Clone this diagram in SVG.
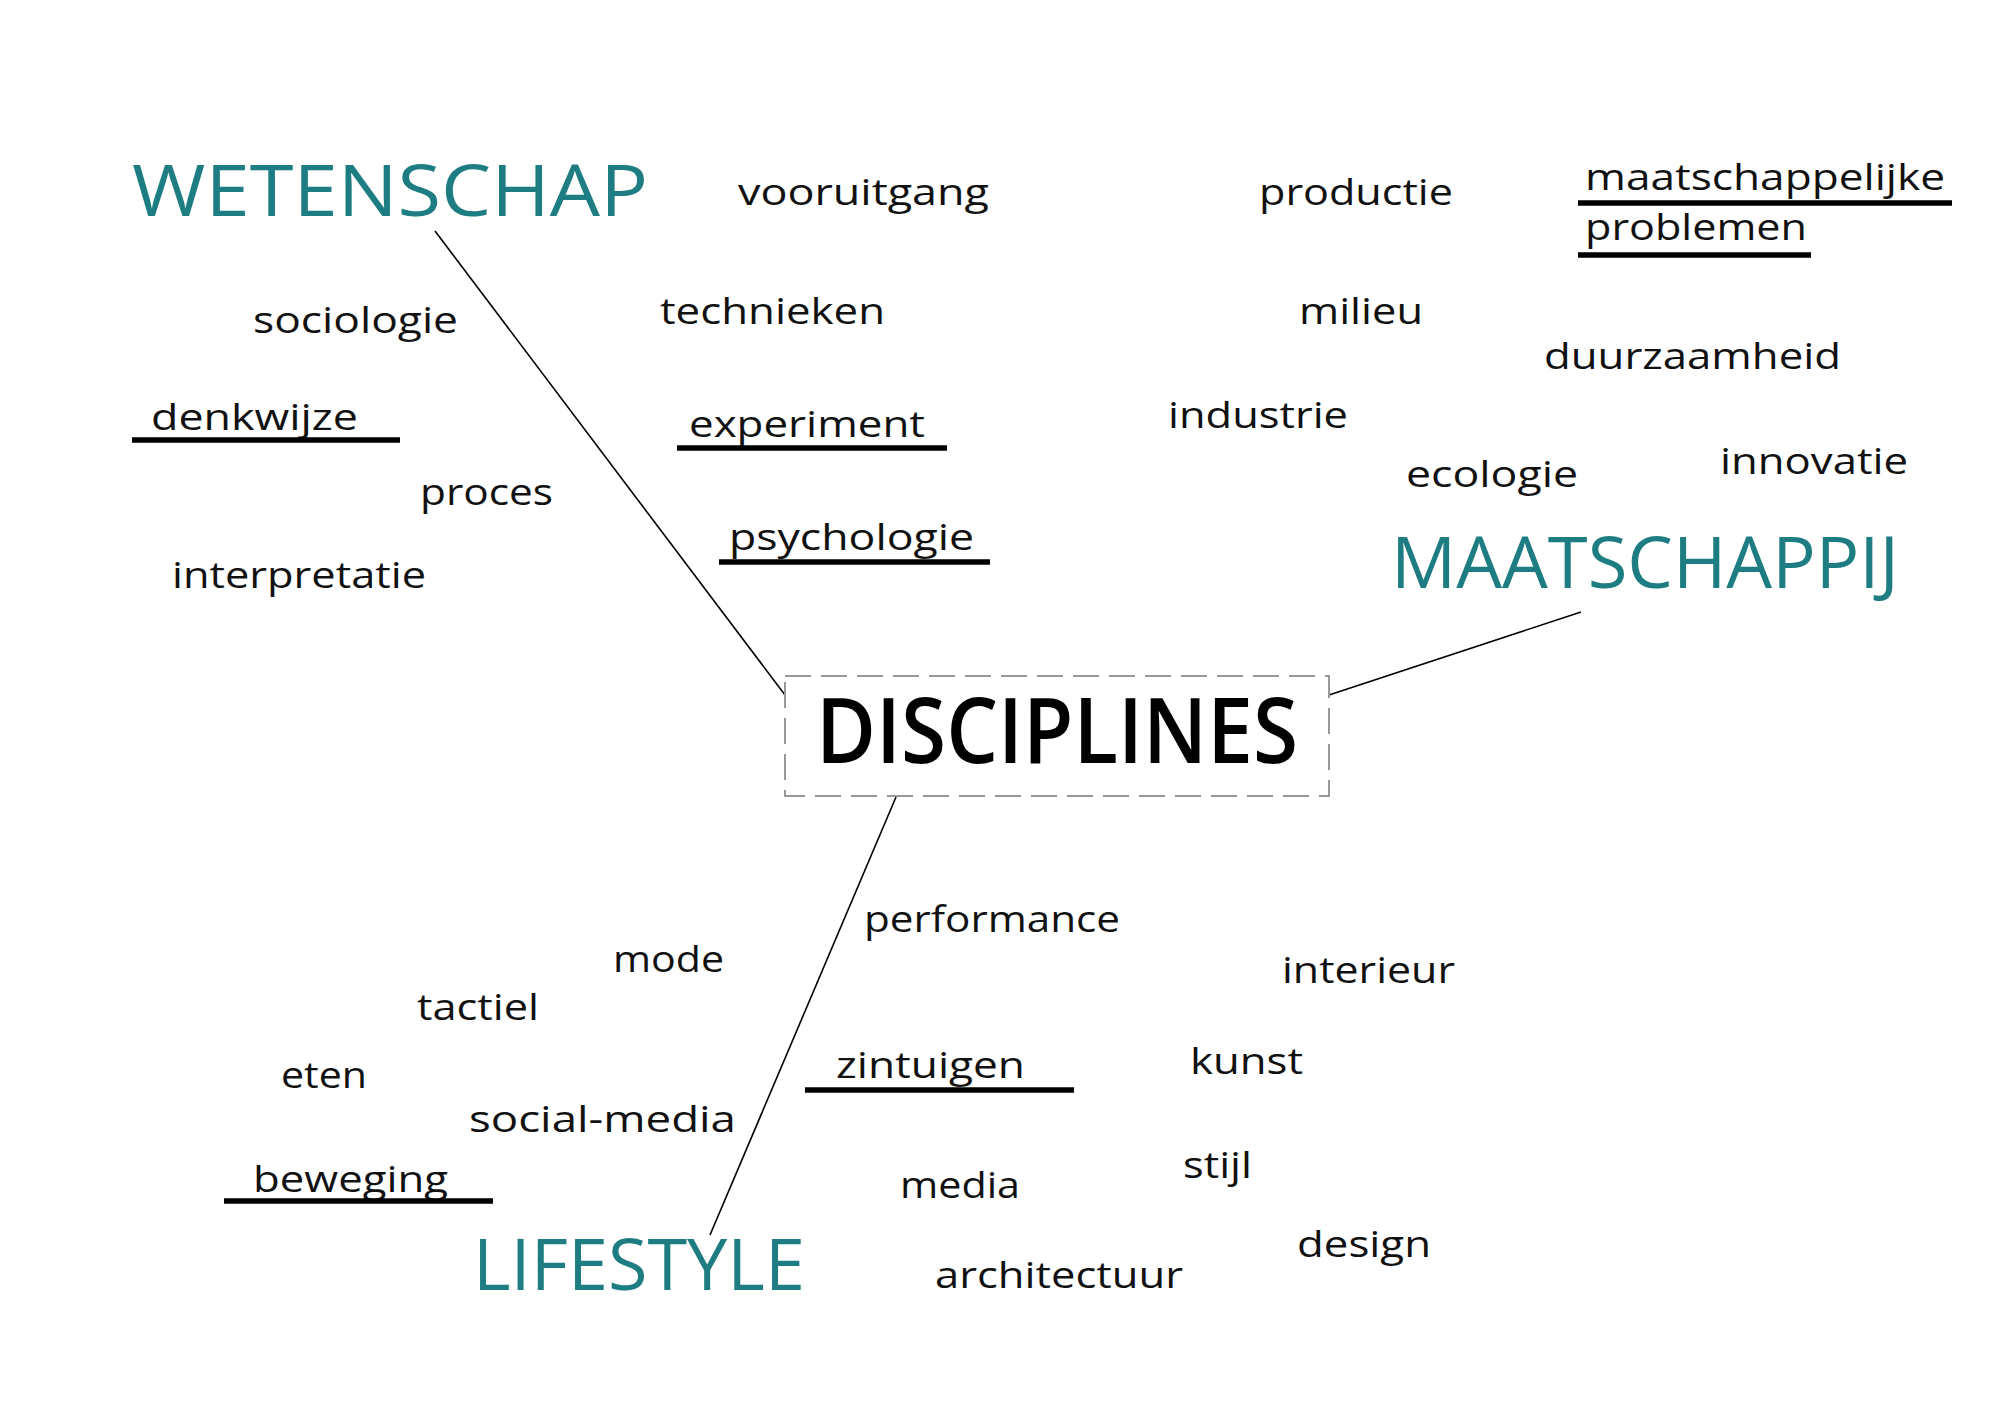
<svg xmlns="http://www.w3.org/2000/svg" width="2000" height="1413" viewBox="0 0 2000 1413">
<style>
.w{font-family:"Open Sans","Liberation Sans",sans-serif;font-size:36px;fill:#111}
.h{font-family:"Open Sans","Liberation Sans",sans-serif;font-size:71px;fill:#1e7d82}
.d{font-family:"Open Sans","Liberation Sans",sans-serif;font-size:90px;font-weight:600;fill:#000}
.u{stroke:#000;stroke-width:5.5;fill:none}
.c{stroke:#000;stroke-width:1.6;fill:none}
</style>
<rect width="2000" height="1413" fill="#fff"/>
<g id="connectors">
<line class="c" x1="435" y1="231" x2="785" y2="695"/>
<line class="c" x1="1329" y1="695" x2="1581" y2="612"/>
<line class="c" x1="896" y1="797" x2="710" y2="1235"/>
</g>
<g id="disciplines">
<rect x="785" y="676" width="544" height="120" fill="#fff" stroke="#999" stroke-width="2" stroke-dasharray="26,10"/>
<text class="d" x="816" y="763" textLength="482" lengthAdjust="spacingAndGlyphs">DISCIPLINES</text>
</g>
<g id="wetenschap"><text class="h" x="132" y="216" textLength="516" lengthAdjust="spacingAndGlyphs">WETENSCHAP</text></g>
<g id="maatschappij"><text class="h" x="1391" y="588" textLength="508" lengthAdjust="spacingAndGlyphs">MAATSCHAPPIJ</text></g>
<g id="lifestyle"><text class="h" x="473" y="1290" textLength="332" lengthAdjust="spacingAndGlyphs">LIFESTYLE</text></g>

<g id="vooruitgang"><text class="w" x="738" y="205" textLength="251" lengthAdjust="spacingAndGlyphs">vooruitgang</text></g>
<g id="technieken"><text class="w" x="660" y="324" textLength="225" lengthAdjust="spacingAndGlyphs">technieken</text></g>
<g id="sociologie"><text class="w" x="253" y="333" textLength="205" lengthAdjust="spacingAndGlyphs">sociologie</text></g>
<g id="denkwijze"><text class="w" x="151" y="430" textLength="207" lengthAdjust="spacingAndGlyphs">denkwijze</text><line class="u" x1="132" y1="440" x2="400" y2="440"/></g>
<g id="experiment"><text class="w" x="689" y="437" textLength="236" lengthAdjust="spacingAndGlyphs">experiment</text><line class="u" x1="677" y1="448" x2="947" y2="448"/></g>
<g id="proces"><text class="w" x="420" y="505" textLength="133" lengthAdjust="spacingAndGlyphs">proces</text></g>
<g id="psychologie"><text class="w" x="729" y="550" textLength="245" lengthAdjust="spacingAndGlyphs">psychologie</text><line class="u" x1="719" y1="562" x2="990" y2="562"/></g>
<g id="interpretatie"><text class="w" x="172" y="588" textLength="254" lengthAdjust="spacingAndGlyphs">interpretatie</text></g>

<g id="productie"><text class="w" x="1259" y="205" textLength="194" lengthAdjust="spacingAndGlyphs">productie</text></g>
<g id="maatschappelijke-problemen"><text class="w" x="1585" y="190" textLength="360" lengthAdjust="spacingAndGlyphs">maatschappelijke</text><line class="u" x1="1578" y1="203" x2="1952" y2="203"/><text class="w" x="1585" y="240" textLength="222" lengthAdjust="spacingAndGlyphs">problemen</text><line class="u" x1="1578" y1="255" x2="1811" y2="255"/></g>
<g id="milieu"><text class="w" x="1299" y="324" textLength="124" lengthAdjust="spacingAndGlyphs">milieu</text></g>
<g id="duurzaamheid"><text class="w" x="1544" y="369" textLength="297" lengthAdjust="spacingAndGlyphs">duurzaamheid</text></g>
<g id="industrie"><text class="w" x="1168" y="428" textLength="180" lengthAdjust="spacingAndGlyphs">industrie</text></g>
<g id="ecologie"><text class="w" x="1406" y="487" textLength="172" lengthAdjust="spacingAndGlyphs">ecologie</text></g>
<g id="innovatie"><text class="w" x="1720" y="474" textLength="188" lengthAdjust="spacingAndGlyphs">innovatie</text></g>

<g id="mode"><text class="w" x="613" y="972" textLength="111" lengthAdjust="spacingAndGlyphs">mode</text></g>
<g id="tactiel"><text class="w" x="417" y="1020" textLength="122" lengthAdjust="spacingAndGlyphs">tactiel</text></g>
<g id="eten"><text class="w" x="281" y="1088" textLength="86" lengthAdjust="spacingAndGlyphs">eten</text></g>
<g id="social-media"><text class="w" x="469" y="1132" textLength="267" lengthAdjust="spacingAndGlyphs">social-media</text></g>
<g id="beweging"><text class="w" x="253" y="1192" textLength="195" lengthAdjust="spacingAndGlyphs">beweging</text><line class="u" x1="224" y1="1201" x2="493" y2="1201"/></g>
<g id="performance"><text class="w" x="864" y="932" textLength="256" lengthAdjust="spacingAndGlyphs">performance</text></g>
<g id="interieur"><text class="w" x="1282" y="983" textLength="173" lengthAdjust="spacingAndGlyphs">interieur</text></g>
<g id="zintuigen"><text class="w" x="836" y="1078" textLength="189" lengthAdjust="spacingAndGlyphs">zintuigen</text><line class="u" x1="805" y1="1090" x2="1074" y2="1090"/></g>
<g id="kunst"><text class="w" x="1190" y="1074" textLength="113" lengthAdjust="spacingAndGlyphs">kunst</text></g>
<g id="stijl"><text class="w" x="1183" y="1178" textLength="69" lengthAdjust="spacingAndGlyphs">stijl</text></g>
<g id="media"><text class="w" x="900" y="1198" textLength="120" lengthAdjust="spacingAndGlyphs">media</text></g>
<g id="design"><text class="w" x="1297" y="1257" textLength="134" lengthAdjust="spacingAndGlyphs">design</text></g>
<g id="architectuur"><text class="w" x="935" y="1288" textLength="248" lengthAdjust="spacingAndGlyphs">architectuur</text></g>
</svg>
